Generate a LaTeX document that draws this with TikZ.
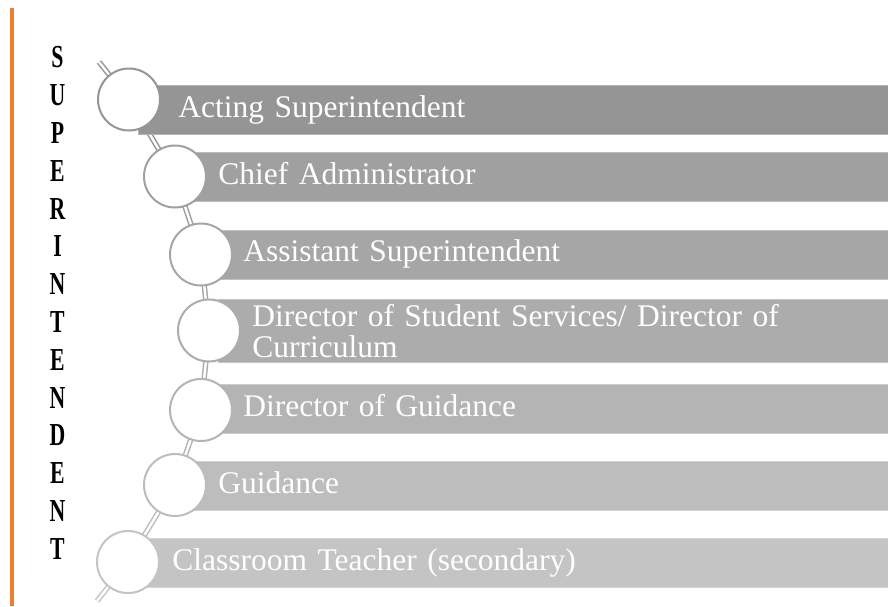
\documentclass[tikz,border=0pt]{standalone}
\usepackage{fontspec}
\setmainfont{Liberation Serif}
\usepackage{graphicx}
\definecolor{accent}{HTML}{ED7D31}
\definecolor{g1}{RGB}{149,149,149}
\definecolor{g2}{RGB}{160,160,160}
\definecolor{g3}{RGB}{166,166,166}
\definecolor{g4}{RGB}{172,172,172}
\definecolor{g5}{RGB}{180,180,180}
\definecolor{g6}{RGB}{189,189,189}
\definecolor{g7}{RGB}{196,196,196}
\pgfdeclarelayer{back}
\pgfsetlayers{back,main}
\begin{document}
\begin{tikzpicture}[x=1pt,y=-1pt,
  bar/.style={rectangle, fill=#1, draw=#1!70!white, line width=0.6pt,
    anchor=north west, inner ysep=0pt, align=left, text=white,
    font=\fontsize{31.5}{31}\selectfont},
  oneline/.style={text height=21.5pt, text depth=7pt},
  ring/.style={circle, draw=#1, fill=white, line width=2pt,
    minimum size=62pt, inner sep=0pt},
  chain/.style={draw=#1, double=white, line width=1.5pt, double distance=2.4pt},
  letter/.style={inner sep=0pt, font=\fontsize{32}{32}\selectfont\bfseries}]
\useasboundingbox (0,0) rectangle (888,606);

% side rule
\coordinate (ruleTop) at (12,8);
\coordinate (ruleBot) at (12,606);
\draw[accent, line width=3.5pt] (ruleTop) -- (ruleBot);

% vertical title
\foreach \ch [count=\i] in {S,U,P,E,R,I,N,T,E,N,D,E,N,T}
  \node[letter] (L\i) at (57.5,{57.5+37.8*(\i-1)}) {\scalebox{0.68}[1]{\ch}};

% bars with labels
\node[bar=g1, oneline, inner xsep=40pt, text width=670pt, minimum height=49pt] (b1) at (138,85) {Acting Superintendent};
\node[bar=g2, oneline, inner xsep=34pt, text width=636pt, minimum height=49pt] (b2) at (184,152) {Chief Administrator};
\node[bar=g3, oneline, inner xsep=33pt, text width=612pt, minimum height=49pt] (b3) at (210,229.5) {Assistant Superintendent};
\node[bar=g4, inner xsep=34pt, text width=602pt, minimum height=63pt] (b4) at (218,299) {Director of Student Services/ Director of\\Curriculum};
\node[bar=g5, oneline, inner xsep=33pt, text width=612pt, minimum height=49pt] (b5) at (210,384) {Director of Guidance};
\node[bar=g6, oneline, inner xsep=34pt, text width=636pt, minimum height=49pt] (b6) at (184,461) {Guidance};
\node[bar=g7, oneline, inner xsep=35pt, text width=681pt, minimum height=49pt] (b7) at (137,538) {Classroom Teacher (secondary)};

% circles
\node[ring=g1] (c1) at (129,99.5) {};
\node[ring=g2] (c2) at (175,176.5) {};
\node[ring=g3] (c3) at (201,254.5) {};
\node[ring=g4] (c4) at (209,330.5) {};
\node[ring=g5] (c5) at (201,410) {};
\node[ring=g6] (c6) at (175,485) {};
\node[ring=g7] (c7) at (128,562) {};

% chain through the circles, drawn underneath
\coordinate (chainTop) at (99,62);
\coordinate (chainBot) at (97,601);
\begin{pgfonlayer}{back}
  \draw[chain=g1] (chainTop) -- (c1.center);
  \draw[chain=g1] (c1.center) -- (c2.center);
  \draw[chain=g2] (c2.center) -- (c3.center);
  \draw[chain=g3] (c3.center) -- (c4.center);
  \draw[chain=g4] (c4.center) -- (c5.center);
  \draw[chain=g5] (c5.center) -- (c6.center);
  \draw[chain=g6] (c6.center) -- (c7.center);
  \draw[chain=g7] (c7.center) -- (chainBot);
\end{pgfonlayer}
\end{tikzpicture}
\end{document}
